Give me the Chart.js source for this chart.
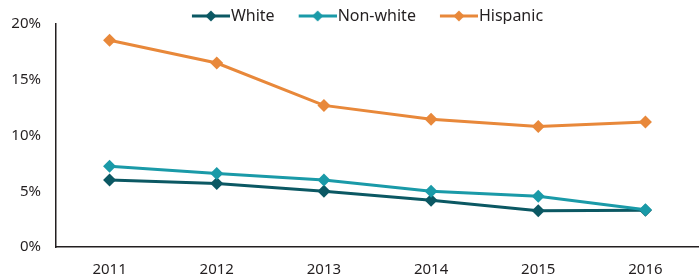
<!DOCTYPE html>
<html>
<head>
<meta charset="utf-8">
<script src="https://cdn.jsdelivr.net/npm/chart.js@4/dist/chart.umd.min.js"></script>
<style>
  body { margin: 0; background: #fff; }
  #wrap { width: 699px; height: 280px; }
</style>
</head>
<body>
<div id="wrap"><canvas id="line" width="699" height="280"></canvas></div>
<script>
const years = ['2011', '2012', '2013', '2014', '2015', '2016'];
const white = [6.0, 5.7, 5.0, 4.2, 3.25, 3.3];
const nonWhite = [7.25, 6.6, 6.0, 5.0, 4.55, 3.35];
const hispanic = [18.55, 16.5, 12.7, 11.45, 10.8, 11.2];

const FONT = '"Noto Sans", sans-serif';

// legend swatch: short line with a diamond, leading blank space gives the gap between items
function swatch(color) {
  const c = document.createElement('canvas');
  c.width = 61; c.height = 14;
  const g = c.getContext('2d');
  g.strokeStyle = color;
  g.lineWidth = 3;
  g.beginPath();
  g.moveTo(23, 7); g.lineTo(61, 7);
  g.stroke();
  g.fillStyle = color;
  g.beginPath();
  g.moveTo(42, 1.5); g.lineTo(47.5, 7); g.lineTo(42, 12.5); g.lineTo(36.5, 7);
  g.closePath();
  g.fill();
  return c;
}

function series(label, data, color, order) {
  return {
    label: label,
    data: data,
    order: order,
    borderColor: color,
    backgroundColor: color,
    borderWidth: 3,
    pointStyle: 'rectRot',
    pointRadius: 6.5,
    pointHoverRadius: 6.5,
    pointBorderWidth: 0,
    tension: 0,
    fill: false,
    legendImg: swatch(color)
  };
}

// keep the legend band short so the plot starts right under it, and nudge it right
const legendFix = {
  id: 'legendFix',
  beforeLayout(chart) {
    const lg = chart.legend;
    if (lg && !lg._fixed) {
      const fit = lg.fit;
      lg.fit = function() { fit.call(this); this.height = 24; };
      lg._fixed = true;
    }
  },
  afterLayout(chart) {
    chart.legend.left += 10;
    chart.legend.right += 10;
  }
};

const lineConfig = {
  type: 'line',
  data: {
    labels: years,
    datasets: [
      series('White', white, '#0b5863', 1),
      series('Non-white', nonWhite, '#1a9aa8', 0),
      series('Hispanic', hispanic, '#e8883a', 2)
    ]
  },
  options: {
    responsive: false,
    animation: false,
    layout: { autoPadding: false, padding: 0 },
    plugins: {
      tooltip: { enabled: false },
      legend: {
        position: 'top',
        labels: {
          color: '#231f20',
          font: { family: FONT, size: 16 },
          usePointStyle: true,
          pointStyleWidth: 47,
          padding: 8,
          generateLabels: function(chart) {
            return chart.data.datasets.map(function(ds, i) {
              return {
                text: ds.label,
                pointStyle: ds.legendImg,
                fillStyle: ds.borderColor,
                strokeStyle: ds.borderColor,
                lineWidth: 0,
                fontColor: '#231f20',
                datasetIndex: i,
                hidden: false
              };
            });
          }
        }
      }
    },
    scales: {
      x: {
        offset: true,
        afterFit: function(s) { s.paddingLeft = 0; s.paddingRight = 0; s.height = 33; },
        grid: { display: false, drawTicks: false },
        border: { color: '#231f20', width: 1.5 },
        ticks: { color: '#231f20', font: { family: FONT, size: 15 }, padding: 14 }
      },
      y: {
        min: 0,
        max: 20,
        afterFit: function(s) { s.width = 56; },
        grid: { display: false, drawTicks: false },
        border: { color: '#231f20', width: 1.5 },
        ticks: {
          stepSize: 5,
          color: '#231f20',
          font: { family: FONT, size: 15 },
          padding: 15,
          callback: function(v) { return v + '%'; }
        }
      }
    }
  },
  plugins: [legendFix]
};

window.onload = function() {
  new Chart(document.getElementById('line'), lineConfig);
};
</script>
</body>
</html>
